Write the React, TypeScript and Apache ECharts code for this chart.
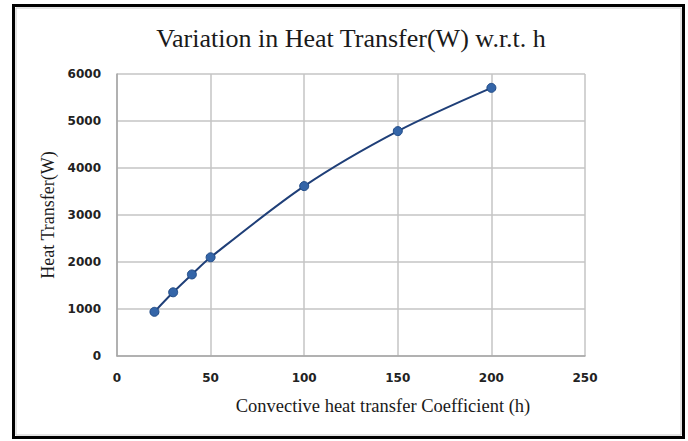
import React, { useEffect, useRef } from "react";
import * as echarts from "echarts";

const hValues = [20, 30, 40, 50, 100, 150, 200];
const heatTransfer = [940, 1355, 1735, 2100, 3615, 4785, 5705];
const titleText = "Variation in Heat Transfer(W) w.r.t. h";
const xName = "Convective heat transfer Coefficient (h)";
const yName = "Heat Transfer(W)";

export default function App() {
  const ref = useRef<HTMLDivElement>(null);
  useEffect(() => {
    document.body.style.margin = "0";
    const chart = echarts.init(ref.current!, null, { renderer: "svg" });
    const labelStyle = {
      margin: 16,
      fontFamily: "DejaVu Sans",
      fontWeight: "bold",
      fontSize: 12,
      color: "#222",
      formatter: (v: number) => String(v),
    };
    chart.setOption({
      animation: false,
      backgroundColor: "#ffffff",
      title: {
        text: titleText,
        left: 346,
        textAlign: "center",
        top: 20,
        textStyle: {
          fontFamily: "Liberation Serif",
          fontSize: 26,
          fontWeight: "normal",
          color: "#1a1a1a",
        },
      },
      graphic: [
        {
          type: "rect",
          shape: { x: 13.5, y: 5.5, width: 670, height: 432 },
          style: { fill: "none", stroke: "#000", lineWidth: 3 },
          silent: true,
        },
        {
          type: "rect",
          shape: { x: 16, y: 8, width: 665, height: 427 },
          style: { fill: "none", stroke: "#c8c8c8", lineWidth: 1 },
          silent: true,
        },
      ],
      grid: { left: 117, right: 103, top: 74, bottom: 85 },
      xAxis: {
        type: "value",
        min: 0,
        max: 250,
        interval: 50,
        name: xName,
        nameLocation: "middle",
        nameGap: 40,
        nameTextStyle: {
          fontFamily: "Liberation Serif",
          fontSize: 18.5,
          color: "#1a1a1a",
          padding: [0, 0, 0, 64],
        },
        axisLine: { show: true, lineStyle: { color: "#a6a6a6", width: 1.5 } },
        axisTick: { show: false },
        splitLine: { show: true, lineStyle: { color: "#c4c4c4", width: 1.5 } },
        axisLabel: labelStyle,
      },
      yAxis: {
        type: "value",
        min: 0,
        max: 6000,
        interval: 1000,
        name: yName,
        nameLocation: "middle",
        nameGap: 56,
        nameTextStyle: {
          fontFamily: "Liberation Serif",
          fontSize: 18,
          color: "#1a1a1a",
        },
        axisLine: { show: true, lineStyle: { color: "#a6a6a6", width: 1.5 } },
        axisTick: { show: false },
        splitLine: { show: true, lineStyle: { color: "#c4c4c4", width: 1.5 } },
        axisLabel: labelStyle,
      },
      series: [
        {
          type: "line",
          data: hValues.map((h, i) => [h, heatTransfer[i]]),
          smooth: 0.3,
          symbol: "circle",
          symbolSize: 9,
          lineStyle: { color: "#1f3f78", width: 2 },
          itemStyle: { color: "#3465a8", borderColor: "#1f4a86", borderWidth: 1 },
        },
      ],
    });
    return () => chart.dispose();
  }, []);
  return (
    <div
      ref={ref}
      style={{ position: "absolute", left: 0, top: 0, width: 688, height: 441 }}
    />
  );
}
